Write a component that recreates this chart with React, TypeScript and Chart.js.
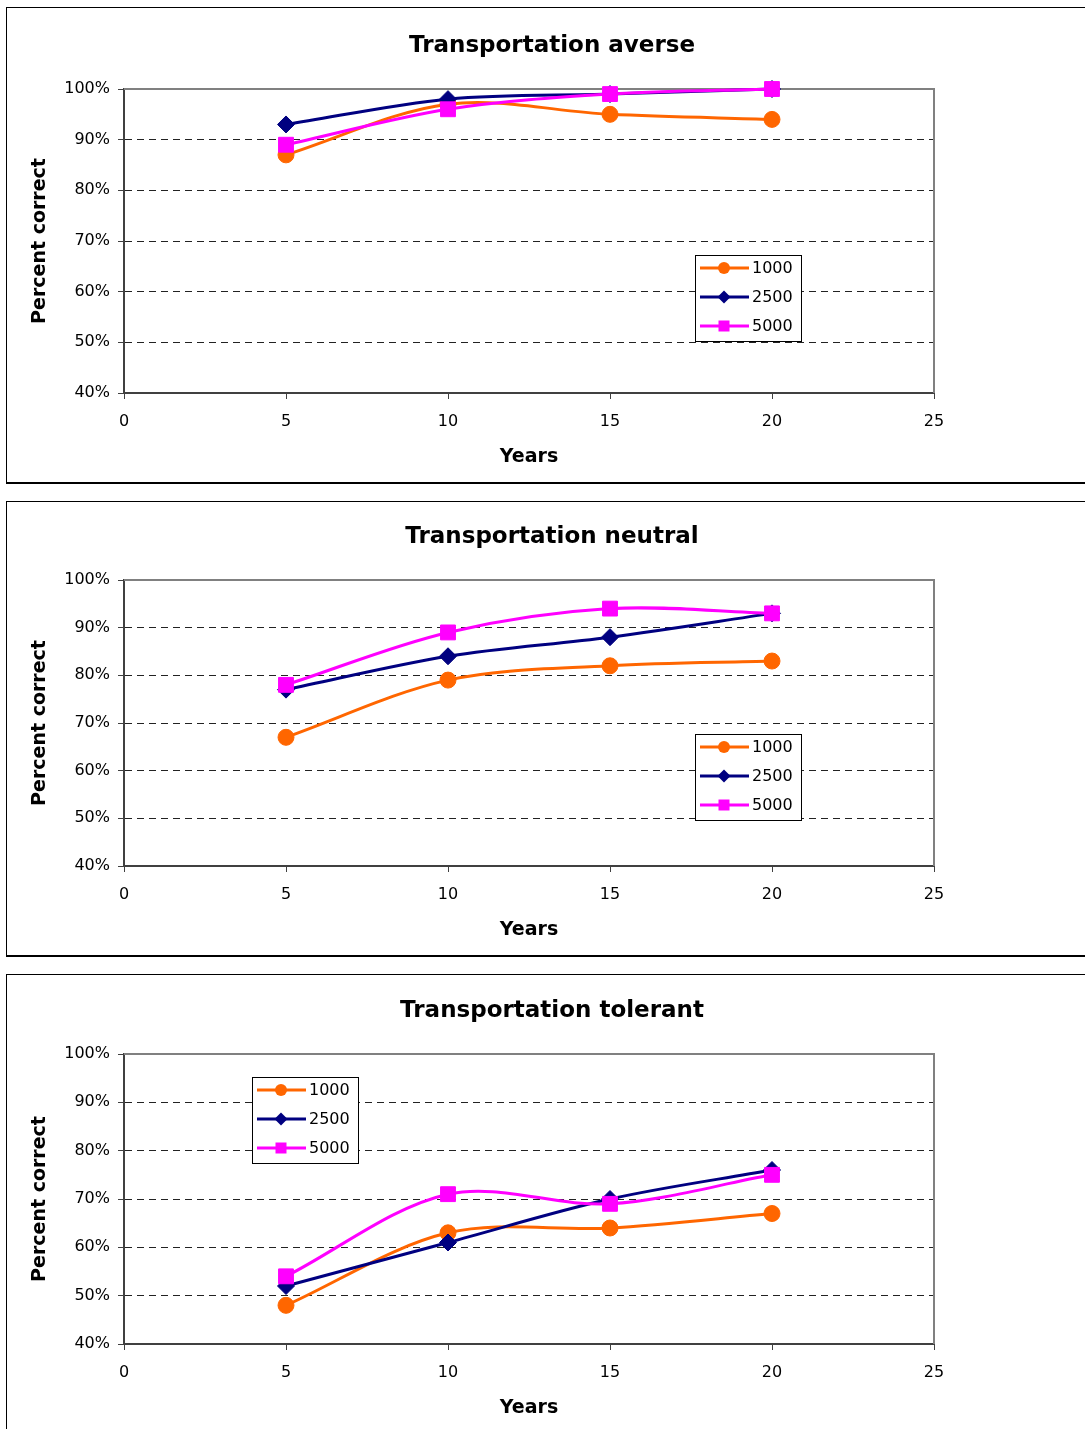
import React, { useEffect, useRef } from 'react';
import { Chart, registerables } from 'chart.js';

Chart.register(...registerables);

// ---------- data ----------
const years = [5, 10, 15, 20];
const seriesLabels = ['1000', '2500', '5000'];

const averse1000 = [87, 97, 95, 94];
const averse2500 = [93, 98, 99, 100];
const averse5000 = [89, 96, 99, 100];

const neutral1000 = [67, 79, 82, 83];
const neutral2500 = [77, 84, 88, 93];
const neutral5000 = [78, 89, 94, 93];

const tolerant1000 = [48, 63, 64, 67];
const tolerant2500 = [52, 61, 70, 76];
const tolerant5000 = [54, 71, 69, 75];

const chartTitles = ['Transportation averse', 'Transportation neutral', 'Transportation tolerant'];
const xAxisTitle = 'Years';
const yAxisTitle = 'Percent correct';
const yMin = 40;
const yMax = 100;
const yStep = 10;
const xMin = 0;
const xMax = 25;
const xStep = 5;

// ---------- styles ----------
const FONT = '"DejaVu Sans", "Liberation Sans", Arial, sans-serif';
const seriesColors = ['#FF6600', '#000080', '#FF00FF'];
const seriesPointStyles = ['circle', 'rectRot', 'rect'];
const seriesPointRadius = [8, 8.5, 10.5];
const seriesOrder = [2, 1, 0];

const CANVAS_W = 1088;
const PLOT_LEFT = 117;
const PLOT_RIGHT = 927;
const X_SCALE_H = 80;

const panels = [
  { title: chartTitles[0], values: [averse1000, averse2500, averse5000], top: 7, height: 474, plotTop: 81, plotBottom: 385, legendX: 688, legendY: 246.5 },
  { title: chartTitles[1], values: [neutral1000, neutral2500, neutral5000], top: 501, height: 453, plotTop: 78, plotBottom: 364, legendX: 688, legendY: 232 },
  { title: chartTitles[2], values: [tolerant1000, tolerant2500, tolerant5000], top: 974, height: 460, plotTop: 79, plotBottom: 369, legendX: 245, legendY: 101.5 },
];

const frameBorderPlugin = {
  id: 'frameBorder',
  beforeDatasetsDraw(chart: any) {
    const { ctx, chartArea } = chart;
    ctx.save();
    ctx.strokeStyle = '#808080';
    ctx.lineWidth = 2;
    ctx.beginPath();
    ctx.moveTo(chartArea.left, chartArea.top);
    ctx.lineTo(chartArea.right, chartArea.top);
    ctx.lineTo(chartArea.right, chartArea.bottom);
    ctx.stroke();
    ctx.restore();
  },
};

const panelTitlePlugin = {
  id: 'panelTitle',
  afterDraw(chart: any, _args: any, opts: any) {
    const { ctx, chartArea } = chart;
    ctx.save();
    ctx.font = `bold 23px ${FONT}`;
    ctx.fillStyle = '#000';
    ctx.textAlign = 'center';
    ctx.textBaseline = 'alphabetic';
    ctx.fillText(opts.text, 545, chartArea.top - 37);
    ctx.restore();
  },
};

function drawMarker(ctx: CanvasRenderingContext2D, style: string, x: number, y: number, color: string) {
  ctx.fillStyle = color;
  ctx.beginPath();
  if (style === 'circle') {
    ctx.arc(x, y, 6, 0, Math.PI * 2);
  } else if (style === 'rectRot') {
    const r = 6.5;
    ctx.moveTo(x - r, y);
    ctx.lineTo(x, y - r);
    ctx.lineTo(x + r, y);
    ctx.lineTo(x, y + r);
    ctx.closePath();
  } else {
    ctx.rect(x - 5.5, y - 5.5, 11, 11);
  }
  ctx.fill();
}

const boxLegendPlugin = {
  id: 'boxLegend',
  afterDatasetsDraw(chart: any, _args: any, opts: any) {
    const { ctx } = chart;
    const x = Math.round(opts.x);
    const y = Math.round(opts.y);
    const w = 106;
    const h = 86;
    ctx.save();
    ctx.fillStyle = '#fff';
    ctx.fillRect(x, y, w, h);
    ctx.strokeStyle = '#000';
    ctx.lineWidth = 1;
    ctx.strokeRect(x + 0.5, y + 0.5, w, h);
    const rows = [13, 42, 71];
    chart.data.datasets.forEach((ds: any, i: number) => {
      const ry = y + rows[i];
      ctx.strokeStyle = ds.borderColor;
      ctx.lineWidth = 3;
      ctx.beginPath();
      ctx.moveTo(x + 5, ry);
      ctx.lineTo(x + 54, ry);
      ctx.stroke();
      drawMarker(ctx, ds.pointStyle, x + 29, ry, ds.borderColor);
      ctx.fillStyle = '#000';
      ctx.font = `16px ${FONT}`;
      ctx.textAlign = 'left';
      ctx.textBaseline = 'middle';
      ctx.fillText(ds.label, x + 57, ry + 1);
    });
    ctx.restore();
  },
};

function Panel({ cfg }: { cfg: any }) {
  const ref = useRef<HTMLCanvasElement | null>(null);
  useEffect(() => {
    if (!ref.current) return;
    const datasets = seriesLabels.map((label, i) => ({
      label,
      data: years.map((yr, j) => ({ x: yr, y: cfg.values[i][j] })),
      borderColor: seriesColors[i],
      backgroundColor: seriesColors[i],
      borderWidth: 3,
      pointStyle: seriesPointStyles[i],
      pointRadius: seriesPointRadius[i],
      pointBorderWidth: 1,
      pointBackgroundColor: seriesColors[i],
      pointBorderColor: seriesColors[i],
      tension: 0.33,
      fill: false,
      clip: false,
      order: seriesOrder[i],
    }));
    const chart = new Chart(ref.current, {
      type: 'line',
      data: { datasets },
      options: {
        animation: false,
        responsive: false,
        devicePixelRatio: 1,
        events: [],
        layout: {
          padding: {
            top: cfg.plotTop,
            left: 0,
            right: CANVAS_W - PLOT_RIGHT,
            bottom: cfg.height - cfg.plotBottom - X_SCALE_H,
          },
        },
        plugins: {
          legend: { display: false },
          tooltip: { enabled: false },
          title: { display: false },
          panelTitle: { text: cfg.title },
          boxLegend: { x: cfg.legendX, y: cfg.legendY },
        } as any,
        scales: {
          x: {
            type: 'linear',
            min: xMin,
            max: xMax,
            afterFit: (s: any) => { s.height = X_SCALE_H; },
            ticks: {
              stepSize: xStep,
              color: '#000',
              font: { family: FONT, size: 16 },
              padding: 13,
              maxRotation: 0,
            },
            grid: {
              drawOnChartArea: false,
              drawTicks: true,
              tickLength: 6,
              tickColor: '#404040',
              tickWidth: 1,
            },
            border: { display: true, color: '#404040', width: 2 },
            title: {
              display: true,
              text: xAxisTitle,
              color: '#000',
              font: { family: FONT, size: 19, weight: 'bold' },
              padding: { top: 0, bottom: 4.6 },
            },
          },
          y: {
            type: 'linear',
            min: yMin,
            max: yMax,
            afterFit: (s: any) => { s.width = PLOT_LEFT; },
            ticks: {
              stepSize: yStep,
              color: '#000',
              font: { family: FONT, size: 16 },
              padding: 8,
              callback: (v: any) => `${v}%`,
            },
            grid: {
              drawOnChartArea: true,
              drawTicks: true,
              tickLength: 6,
              tickColor: '#404040',
              tickWidth: 1,
              tickBorderDash: [],
              lineWidth: 1,
              color: (c: any) =>
                c.tick && (c.tick.value === yMin || c.tick.value === yMax) ? 'rgba(0,0,0,0)' : '#222',
            },
            border: { display: true, color: '#404040', width: 2, dash: [7, 5] },
            title: {
              display: true,
              text: yAxisTitle,
              color: '#000',
              font: { family: FONT, size: 19, weight: 'bold' },
              padding: { top: 22, bottom: 0 },
            },
          },
        },
      } as any,
      plugins: [frameBorderPlugin, panelTitlePlugin, boxLegendPlugin],
    });
    return () => chart.destroy();
  }, [cfg]);

  return (
    <div
      style={{
        position: 'absolute',
        left: 6,
        top: cfg.top,
        width: CANVAS_W,
        height: cfg.height,
        borderTop: '1px solid #000',
        borderLeft: '1px solid #000',
        borderRight: '2px solid #000',
        borderBottom: '2px solid #000',
        background: '#fff',
      }}
    >
      <canvas
        ref={ref}
        width={CANVAS_W}
        height={cfg.height}
        style={{ display: 'block', width: CANVAS_W, height: cfg.height }}
      />
    </div>
  );
}

export default function App() {
  return (
    <div
      style={{
        position: 'absolute',
        left: 0,
        top: 0,
        width: 1085,
        height: 1429,
        overflow: 'hidden',
        background: '#fff',
        fontFamily: FONT,
      }}
    >
      {panels.map((p, i) => (
        <Panel key={i} cfg={p} />
      ))}
    </div>
  );
}
